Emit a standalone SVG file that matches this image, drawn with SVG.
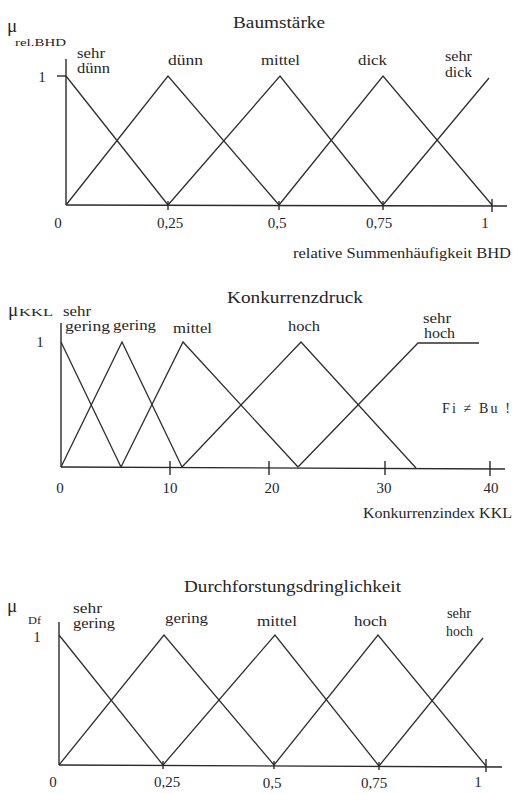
<svg xmlns="http://www.w3.org/2000/svg" width="516" height="794" viewBox="0 0 516 794" font-family="'Liberation Serif', 'Times New Roman', serif">
<style>
.ax{stroke:#2a2a2a;stroke-width:1.4;fill:none}
.mf{stroke:#2e2e2e;stroke-width:1.3;fill:none;stroke-linejoin:miter}
text{font-family:"Liberation Serif","Times New Roman",serif;fill:#262626}
.lb{font-size:14px}
.tt{font-size:17px}
.tk{font-size:15px;text-anchor:middle}
.mu{font-size:19px}
.sub{font-size:11px}
</style>
<rect width="516" height="794" fill="#ffffff"/>

<g id="chart-baumstaerke">
  <g id="axes-1">
    <line class="ax" x1="66" y1="59" x2="66" y2="205"/>
    <line class="ax" x1="66" y1="205" x2="507" y2="206"/>
    <line class="ax" x1="57" y1="76" x2="66" y2="76"/>
    <line class="ax" x1="168" y1="201" x2="168" y2="210"/>
    <line class="ax" x1="279" y1="201" x2="279" y2="210"/>
    <line class="ax" x1="383" y1="201" x2="383" y2="210"/>
    <line class="ax" x1="492" y1="199" x2="492" y2="212"/>
  </g>
  <g id="mf-1">
    <polyline class="mf" points="66,76 168,205"/>
    <polyline class="mf" points="66,205 168,76 279,205"/>
    <polyline class="mf" points="168,205 280,76 383,205"/>
    <polyline class="mf" points="279,205 383,76 492,205"/>
    <polyline class="mf" points="383,205 489,78"/>
  </g>
  <text class="mu" x="7" y="32">μ</text>
  <text class="sub" x="15" y="46" textLength="51" lengthAdjust="spacingAndGlyphs">rel.BHD</text>
  <text class="tt" x="233" y="28" textLength="92" lengthAdjust="spacingAndGlyphs">Baumstärke</text>
  <text class="lb" x="77" y="58" textLength="28" lengthAdjust="spacingAndGlyphs">sehr</text>
  <text class="lb" x="77" y="73" textLength="33" lengthAdjust="spacingAndGlyphs">dünn</text>
  <text class="lb" x="168" y="65" textLength="35" lengthAdjust="spacingAndGlyphs">dünn</text>
  <text class="lb" x="261" y="65" textLength="39" lengthAdjust="spacingAndGlyphs">mittel</text>
  <text class="lb" x="358" y="65" textLength="29" lengthAdjust="spacingAndGlyphs">dick</text>
  <text class="lb" x="445" y="61" textLength="27" lengthAdjust="spacingAndGlyphs">sehr</text>
  <text class="lb" x="445" y="77" textLength="27" lengthAdjust="spacingAndGlyphs">dick</text>
  <text class="tk" x="42" y="82">1</text>
  <text class="tk" x="58" y="228">0</text>
  <text class="tk" x="170" y="228">0,25</text>
  <text class="tk" x="277" y="228">0,5</text>
  <text class="tk" x="379" y="228">0,75</text>
  <text class="tk" x="485" y="228">1</text>
  <text class="lb" x="293" y="258" textLength="218" lengthAdjust="spacingAndGlyphs">relative Summenhäufigkeit BHD</text>
</g>

<g id="chart-konkurrenzdruck">
  <g id="axes-2">
    <line class="ax" x1="61" y1="323" x2="61" y2="467"/>
    <line class="ax" x1="61" y1="467" x2="505" y2="469"/>
    <line class="ax" x1="170" y1="461" x2="170" y2="475"/>
    <line class="ax" x1="269" y1="461" x2="269" y2="475"/>
    <line class="ax" x1="385" y1="461" x2="385" y2="475"/>
    <line class="ax" x1="490" y1="461" x2="490" y2="476"/>
  </g>
  <g id="mf-2">
    <polyline class="mf" points="61,342 121,467"/>
    <polyline class="mf" points="61,467 122,342 182,467"/>
    <polyline class="mf" points="121,467 183,342 298,467"/>
    <polyline class="mf" points="182,467 301,342 416,468"/>
    <polyline class="mf" points="298,467 418,343 479,343"/>
  </g>
  <text class="mu" x="8" y="316">μ</text>
  <text class="sub" x="19" y="316" textLength="34" lengthAdjust="spacingAndGlyphs">KKL</text>
  <text class="tt" x="227" y="303" textLength="136" lengthAdjust="spacingAndGlyphs">Konkurrenzdruck</text>
  <text class="lb" x="63" y="316" textLength="28" lengthAdjust="spacingAndGlyphs">sehr</text>
  <text class="lb" x="65" y="331" textLength="45" lengthAdjust="spacingAndGlyphs">gering</text>
  <text class="lb" x="113" y="330" textLength="43" lengthAdjust="spacingAndGlyphs">gering</text>
  <text class="lb" x="173" y="333" textLength="39" lengthAdjust="spacingAndGlyphs">mittel</text>
  <text class="lb" x="288" y="331" textLength="32" lengthAdjust="spacingAndGlyphs">hoch</text>
  <text class="lb" x="423" y="323" textLength="28" lengthAdjust="spacingAndGlyphs">sehr</text>
  <text class="lb" x="424" y="338" textLength="31" lengthAdjust="spacingAndGlyphs">hoch</text>
  <text class="tk" x="40" y="347">1</text>
  <text class="lb" x="442" y="413" textLength="68" lengthAdjust="spacing">Fi ≠ Bu !</text>
  <text class="tk" x="60" y="493">0</text>
  <text class="tk" x="170" y="493">10</text>
  <text class="tk" x="272" y="493">20</text>
  <text class="tk" x="384" y="493">30</text>
  <text class="tk" x="491" y="493">40</text>
  <text class="lb" x="363" y="518" textLength="149" lengthAdjust="spacingAndGlyphs">Konkurrenzindex KKL</text>
</g>

<g id="chart-durchforstungsdringlichkeit">
  <g id="axes-3">
    <line class="ax" x1="59" y1="622" x2="59" y2="765"/>
    <line class="ax" x1="59" y1="765" x2="502" y2="767"/>
    <line class="ax" x1="163" y1="761" x2="163" y2="769"/>
    <line class="ax" x1="274" y1="761" x2="274" y2="769"/>
    <line class="ax" x1="379" y1="762" x2="379" y2="770"/>
    <line class="ax" x1="486" y1="759" x2="486" y2="772"/>
  </g>
  <g id="mf-3">
    <polyline class="mf" points="59,635 163,765"/>
    <polyline class="mf" points="59,765 164,635 274,765"/>
    <polyline class="mf" points="163,765 275,635 379,766"/>
    <polyline class="mf" points="274,765 378,635 486,766"/>
    <polyline class="mf" points="379,766 483,638"/>
  </g>
  <text class="mu" x="7" y="612">μ</text>
  <text class="sub" x="28" y="624" textLength="13" lengthAdjust="spacingAndGlyphs">Df</text>
  <text class="tt" x="184" y="592" textLength="217" lengthAdjust="spacingAndGlyphs">Durchforstungsdringlichkeit</text>
  <text class="lb" x="73" y="613" textLength="29" lengthAdjust="spacingAndGlyphs">sehr</text>
  <text class="lb" x="73" y="628" textLength="42" lengthAdjust="spacingAndGlyphs">gering</text>
  <text class="lb" x="165" y="623" textLength="43" lengthAdjust="spacingAndGlyphs">gering</text>
  <text class="lb" x="257" y="626" textLength="40" lengthAdjust="spacingAndGlyphs">mittel</text>
  <text class="lb" x="354" y="626" textLength="33" lengthAdjust="spacingAndGlyphs">hoch</text>
  <text class="lb" x="447" y="618" textLength="24" lengthAdjust="spacingAndGlyphs">sehr</text>
  <text class="lb" x="446" y="636" textLength="27" lengthAdjust="spacingAndGlyphs">hoch</text>
  <text class="tk" x="37" y="642">1</text>
  <text class="tk" x="53" y="787">0</text>
  <text class="tk" x="167" y="787">0,25</text>
  <text class="tk" x="272" y="788">0,5</text>
  <text class="tk" x="374" y="788">0,75</text>
  <text class="tk" x="478" y="787">1</text>
</g>
</svg>
